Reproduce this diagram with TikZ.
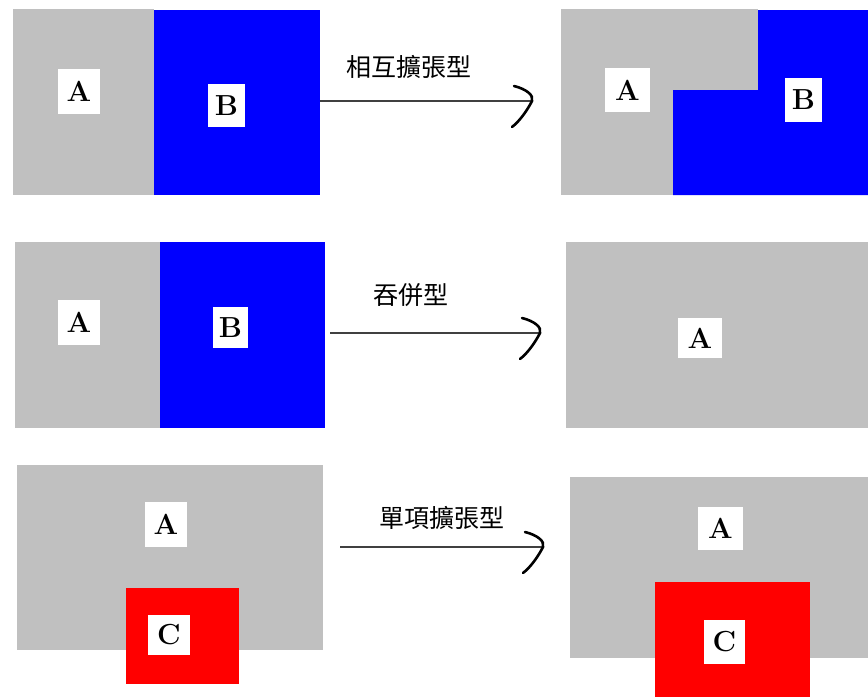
\documentclass[tikz,border=0pt]{standalone}
\usepackage{fontspec}
\newfontfamily\cjk{Noto Sans CJK TC}
\usetikzlibrary{calc}
\definecolor{regiongray}{HTML}{C0C0C0}
\definecolor{regionblue}{HTML}{0000FF}
\definecolor{regionred}{HTML}{FF0000}
\tikzset{
  grayregion/.style={fill=regiongray},
  blueregion/.style={fill=regionblue},
  redregion/.style={fill=regionred},
  lbl/.style={fill=white, inner sep=0pt, minimum width=42pt, minimum height=45pt, font=\fontsize{29}{29}\selectfont\bfseries},
  captxt/.style={font=\cjk\fontsize{25}{25}\selectfont, inner sep=0pt},
  shaft/.style={draw=black!75, line width=2pt},
  head/.style={draw=black, line width=2.6pt, line cap=round}
}
\newcommand{\openhead}[1]{%
  \draw[head] ($(#1)+(-18,-15)$) .. controls ($(#1)+(-6,-12)$) and ($(#1)+(2,-6)$) .. (#1)
    .. controls ($(#1)+(-4,8)$) and ($(#1)+(-12,20)$) .. ($(#1)+(-20,26)$);}
\begin{document}
\begin{tikzpicture}[x=1pt,y=-1pt]
\useasboundingbox (0,0) rectangle (868,697);
% ---- row 1 ----
\fill[grayregion] (13,9) rectangle (154,195);
\fill[blueregion] (154,10) rectangle (320,195);
\node[lbl] (a1) at (79,91) {A};
\node[lbl, minimum width=37pt, minimum height=43pt] (b1) at (226.5,105.5) {B};
\coordinate (s1) at (320,101);
\coordinate (t1) at (532,101);
\draw[shaft] (s1) -- (t1);
\openhead{t1}
\node[captxt] (c1) at (409,67) {相互擴張型};
\fill[grayregion] (561,9) rectangle (758,195);
\fill[blueregion] (758,10) -- (868,10) -- (868,195) -- (673,195) -- (673,90) -- (758,90) -- cycle;
\node[lbl, minimum width=45pt, minimum height=44pt] (a2) at (627.5,90) {A};
\node[lbl, minimum width=37pt, minimum height=44pt] (b2) at (803.5,100) {B};
% ---- row 2 ----
\fill[grayregion] (15,242) rectangle (160,428);
\fill[blueregion] (160,242) rectangle (325,428);
\node[lbl] (a3) at (79,322) {A};
\node[lbl, minimum width=35pt, minimum height=41pt] (b3) at (230.5,327.5) {B};
\coordinate (s2) at (330,333);
\coordinate (t2) at (540,333);
\draw[shaft] (s2) -- (t2);
\openhead{t2}
\node[captxt] (c2) at (411,295) {吞併型};
\fill[grayregion] (566,242) rectangle (868,428);
\node[lbl, minimum width=44pt, minimum height=40pt] (a4) at (700,338) {A};
% ---- row 3 ----
\fill[grayregion] (17,465) rectangle (323,650);
\fill[redregion] (126,588) rectangle (239,684);
\node[lbl] (a5) at (166,524) {A};
\node[lbl, minimum height=40pt] (c5) at (169,635) {C};
\coordinate (s3) at (340,547);
\coordinate (t3) at (543,547);
\draw[shaft] (s3) -- (t3);
\openhead{t3}
\node[captxt] (c3) at (442,518) {單項擴張型};
\fill[grayregion] (570,477) rectangle (868,658);
\fill[redregion] (655,582) rectangle (810,697);
\node[lbl, minimum width=45pt, minimum height=43pt] (a6) at (720.5,528.5) {A};
\node[lbl, minimum width=41pt, minimum height=44pt] (c6) at (724.5,642) {C};
\end{tikzpicture}
\end{document}
